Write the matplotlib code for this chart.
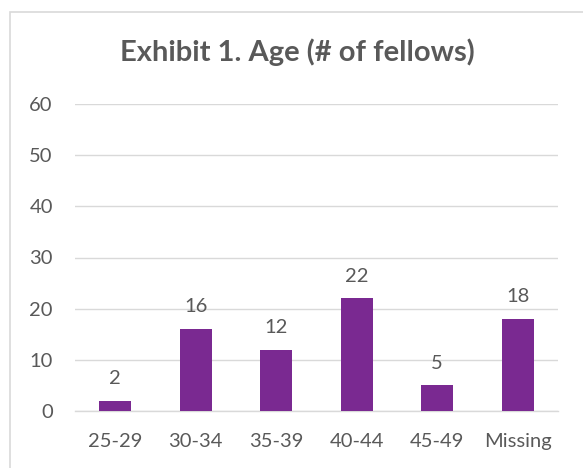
import matplotlib
matplotlib.use("Agg")
import matplotlib.pyplot as plt
from matplotlib.patches import Rectangle

categories = ["25-29", "30-34", "35-39", "40-44", "45-49", "Missing"]
values = [2, 16, 12, 22, 5, 18]
yticks = [0, 10, 20, 30, 40, 50, 60]

W, H = 583, 468
fig = plt.figure(figsize=(W/100, H/100), dpi=100)
plt.rcParams['font.family'] = ['Lato', 'DejaVu Sans']
text_color = '#595959'
purple = '#7A2991'

# outer border
fig.patches.append(Rectangle((10/W, -0.1), 1.2, 1 - 12/H + 0.1, transform=fig.transFigure,
                             fill=False, edgecolor='#D9D9D9', linewidth=1.2))

ax = fig.add_axes([75/W, 1 - 411/H, (558-75)/W, (411-104)/H])
x = range(len(categories))
bars = ax.bar(x, values, width=0.4, color=purple, zorder=3)
for xi, v in zip(x, values):
    ax.text(xi, v + 2.7, str(v), ha='center', va='bottom', fontsize=14.5, color=text_color)

ax.set_ylim(0, 60)
ax.set_xlim(-0.5, len(categories) - 0.5)
ax.set_yticks(yticks)
ax.set_xticks(list(x))
ax.set_xticklabels(categories)
ax.grid(axis='y', color='#D9D9D9', linewidth=1, zorder=0)
for s in ['top', 'right', 'left']:
    ax.spines[s].set_visible(False)
ax.spines['bottom'].set_color('#D9D9D9')
ax.spines['bottom'].set_linewidth(1)
ax.tick_params(axis='both', length=0, labelsize=14.5, colors=text_color)
ax.tick_params(axis='x', pad=16)
ax.tick_params(axis='y', pad=16)

fig.text(297/W, 1 - 52/H, "Exhibit 1. Age (# of fellows)", ha='center', va='center',
         fontsize=21, fontweight='bold', color=text_color)

fig.savefig("out.png", dpi=100)
